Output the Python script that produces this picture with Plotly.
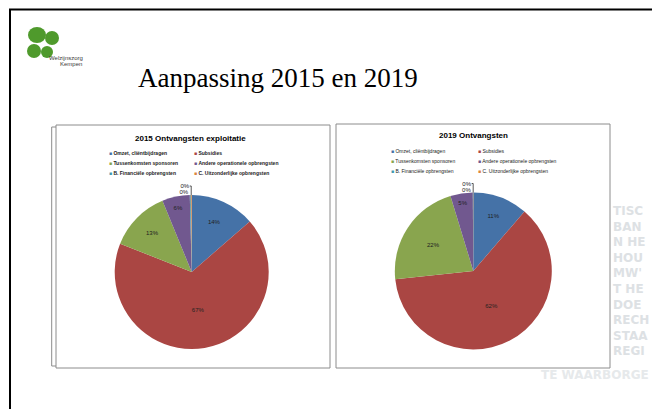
import plotly.graph_objects as go

W, H = 652, 409

# ---------------- data ----------------
cats_2015 = ["Omzet, cliëntbijdragen", "Subsidies", "Tussenkomsten sponsoren",
             "Andere operationele opbrengsten", "B. Financiële opbrengsten",
             "C. Uitzonderlijke opbrengsten"]
vals_2015 = [13.6, 67.4, 12.8, 5.8, 0.2, 0.2]

cats_2019 = ["Omzet, cliëntbijdragen", "Subsidies", "Tussenkomsten sponsoren",
             "Andere operationele opbrengsten", "B. Financiële opbrengsten",
             "C. Uitzonderlijke opbrengsten"]
vals_2019 = [11.3, 62.0, 22.0, 4.6, 0.05, 0.05]

colors = ["#4572A7", "#AA4643", "#89A54E", "#71588F", "#4198AF", "#DB843D"]

title_slide = "Aanpassing 2015 en 2019"
title_2015 = "2015 Ontvangsten exploitatie"
title_2019 = "2019 Ontvangsten"
watermark = ["TISC", "BAN", "N HE", "HOU", "MW'", "T HE", "DOE",
             "RECH", "STAA", "REGI"]


def fx(x):
    return x / W


def fy(y):
    return 1 - y / H


fig = go.Figure()


def add_pie(vals, cats, cx, cy, r):
    fig.add_trace(go.Pie(
        values=vals, labels=cats, sort=False, direction="clockwise", rotation=0,
        marker=dict(colors=colors, line=dict(width=0)),
        texttemplate="%{percent:.0%}",
        textposition=["inside", "inside", "inside", "inside", "outside", "outside"],
        insidetextorientation="horizontal",
        textfont=dict(size=6, color="#222", family="Liberation Sans"),
        domain=dict(x=[fx(cx - r), fx(cx + r)], y=[fy(cy + r + 6), fy(cy - r - 6)]),
        showlegend=False, hoverinfo="label+percent",
    ))


add_pie(vals_2015, cats_2015, 191.7, 272, 77)
add_pie(vals_2019, cats_2019, 473.3, 271, 78.5)

shapes = []
# slide frame
shapes.append(dict(type="line", xref="paper", yref="paper", x0=fx(10), x1=fx(10), y0=fy(9), y1=fy(409),
                   line=dict(color="black", width=2)))
shapes.append(dict(type="line", xref="paper", yref="paper", x0=fx(9), x1=fx(652), y0=fy(9.5), y1=fy(9.5),
                   line=dict(color="black", width=2)))
# chart boxes
for (x0, y0, x1, y1) in [(51.7, 127, 325, 366), (56, 125, 330, 368), (336, 124, 610, 368)]:
    shapes.append(dict(type="rect", xref="paper", yref="paper", layer="below",
                       x0=fx(x0), x1=fx(x1), y0=fy(y1), y1=fy(y0),
                       line=dict(color="#8c8c8c", width=1), fillcolor="white"))
# logo blobs
for (cx, cy, rx, ry) in [(37, 35, 9, 8), (52, 38, 7, 7), (34, 51, 7, 7), (47, 52, 6, 6)]:
    shapes.append(dict(type="circle", xref="paper", yref="paper",
                       x0=fx(cx - rx), x1=fx(cx + rx), y0=fy(cy + ry), y1=fy(cy - ry),
                       line=dict(width=0), fillcolor="#4f9a2c"))

annotations = []
# watermark (peeking out behind the chart box edge)
annotations.append(dict(text="<br>".join(watermark), x=fx(611), y=fy(202), xref="paper", yref="paper",
                        xanchor="left", yanchor="top", align="left", showarrow=False,
                        font=dict(family="DejaVu Sans", size=12, color="#dde1e4", weight="bold")))
annotations.append(dict(text="TE WAARBORGE", x=fx(651), y=fy(375), xref="paper", yref="paper",
                        xanchor="right", yanchor="middle", showarrow=False,
                        font=dict(family="DejaVu Sans", size=12, color="#e6e9eb", weight="bold")))
# logo text
annotations.append(dict(text="Welzijnszorg", x=fx(47), y=fy(58), xref="paper", yref="paper",
                        xanchor="left", yanchor="middle", showarrow=False,
                        font=dict(family="Liberation Sans", size=6, color="#3a3a3a")))
annotations.append(dict(text="Kempen", x=fx(58), y=fy(64), xref="paper", yref="paper",
                        xanchor="left", yanchor="middle", showarrow=False,
                        font=dict(family="Liberation Sans", size=6, color="#3a3a3a")))
# slide title
annotations.append(dict(text=title_slide, x=fx(278), y=fy(78), xref="paper", yref="paper",
                        xanchor="center", yanchor="middle", showarrow=False,
                        font=dict(family="Liberation Serif", size=27, color="black")))
# chart titles
annotations.append(dict(text="<b>" + title_2015 + "</b>", x=fx(190), y=fy(138), xref="paper", yref="paper",
                        xanchor="center", yanchor="middle", showarrow=False,
                        font=dict(family="Liberation Sans", size=8, color="black")))
annotations.append(dict(text="<b>" + title_2019 + "</b>", x=fx(473), y=fy(135), xref="paper", yref="paper",
                        xanchor="center", yanchor="middle", showarrow=False,
                        font=dict(family="Liberation Sans", size=8, color="black")))


def add_legend(cats, x_cols, y_rows, bold):
    for i, c in enumerate(cats):
        col, row = i % 2, i // 2
        label = "<b>" + c + "</b>" if bold else c
        annotations.append(dict(
            text="<span style='color:%s'>■</span> %s" % (colors[i], label),
            x=fx(x_cols[col]), y=fy(y_rows[row]), xref="paper", yref="paper",
            xanchor="left", yanchor="middle", showarrow=False,
            font=dict(family="Liberation Sans", size=5, color="#222")))


add_legend(cats_2015, [107, 192], [153, 163, 173], True)
add_legend(cats_2019, [389, 476], [151, 161, 171], False)

fig.update_layout(
    width=W, height=H, margin=dict(l=0, r=0, t=0, b=0),
    paper_bgcolor="white", plot_bgcolor="white",
    shapes=shapes, annotations=annotations,
)

fig.write_html("out.html", config={"displayModeBar": False},
               post_script="document.body.style.margin='0';")
